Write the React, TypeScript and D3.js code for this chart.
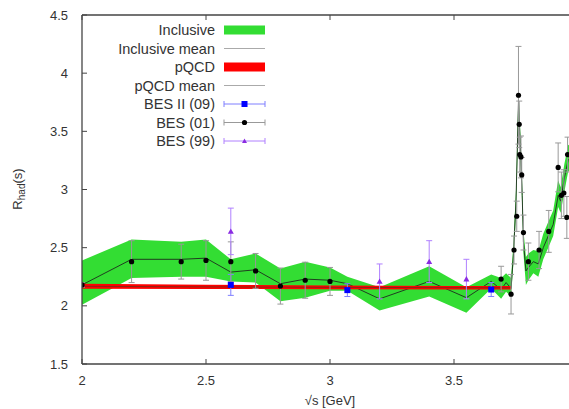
import React from "react";
import * as d3 from "d3";

// Inclusive band (mean, lower, upper)
const incX = [2.0, 2.2, 2.4, 2.5, 2.6, 2.7, 2.8, 2.9, 3.0, 3.07, 3.2, 3.4, 3.55, 3.65, 3.69, 3.71, 3.73, 3.74, 3.75, 3.76, 3.765, 3.77, 3.775, 3.78, 3.79, 3.8, 3.82, 3.84, 3.86, 3.88, 3.9, 3.92, 3.93, 3.945, 3.96, 3.98, 4.0];
const incMean = [2.18, 2.4, 2.4, 2.41, 2.29, 2.31, 2.19, 2.23, 2.22, 2.19, 2.06, 2.21, 2.07, 2.21, 2.14, 2.2, 2.15, 2.45, 2.9, 3.75, 3.5, 3.25, 2.95, 2.55, 2.3, 2.33, 2.38, 2.36, 2.5, 2.6, 2.7, 2.95, 2.9, 3.1, 3.25, 3.3, 3.3];
const incLow = [2.01, 2.24, 2.25, 2.25, 2.21, 2.2, 2.04, 2.07, 2.13, 2.13, 1.96, 2.08, 1.94, 2.15, 2.06, 2.12, 2.08, 2.38, 2.8, 3.6, 3.4, 3.15, 2.85, 2.45, 2.18, 2.22, 2.28, 2.25, 2.4, 2.5, 2.6, 2.85, 2.8, 2.98, 3.15, 3.2, 3.2];
const incHigh = [2.39, 2.57, 2.55, 2.57, 2.4, 2.45, 2.32, 2.38, 2.33, 2.25, 2.16, 2.34, 2.16, 2.27, 2.24, 2.28, 2.24, 2.55, 3.0, 3.85, 3.62, 3.36, 3.05, 2.65, 2.42, 2.45, 2.48, 2.47, 2.62, 2.72, 2.82, 3.08, 3.02, 3.22, 3.38, 3.4, 3.4];

// pQCD band
const pqX = [2.0, 2.5, 3.0, 3.5, 3.73];
const pqMean = [2.168, 2.163, 2.159, 2.156, 2.155];
const pqHalf = [0.022, 0.018, 0.016, 0.015, 0.015];

// BES (01)
const bes01X = [2.0, 2.2, 2.4, 2.5, 2.6, 2.7, 2.8, 2.9, 3.0, 3.69, 3.73, 3.742, 3.753, 3.76, 3.763, 3.765, 3.77, 3.773, 3.78, 3.8, 3.843, 3.882, 3.92, 3.933, 3.943, 3.955, 3.958];
const bes01Y = [2.18, 2.38, 2.38, 2.39, 2.38, 2.3, 2.17, 2.22, 2.21, 2.23, 2.1, 2.48, 2.77, 3.81, 3.56, 3.3, 3.28, 3.125, 2.63, 2.38, 2.48, 2.64, 3.19, 2.95, 2.97, 2.76, 3.3];
const bes01E = [0.02, 0.18, 0.15, 0.17, 0.17, 0.15, 0.155, 0.155, 0.12, 0.11, 0.17, 0.12, 0.13, 0.42, 0.2, 0.15, 0.18, 0.15, 0.15, 0.16, 0.16, 0.18, 0.21, 0.2, 0.2, 0.18, 0.15];

// BES II (09)
const bes09X = [2.6, 3.07, 3.65];
const bes09Y = [2.18, 2.135, 2.14];
const bes09E = [0.09, 0.055, 0.06];

// BES (99)
const bes99X = [2.6, 3.2, 3.4, 3.55];
const bes99Y = [2.64, 2.21, 2.38, 2.23];
const bes99E = [0.2, 0.15, 0.18, 0.17];

const xTicks = [2, 2.5, 3, 3.5];
const yTicks = [1.5, 2, 2.5, 3, 3.5, 4, 4.5];
const legendLabels = ["Inclusive", "Inclusive mean", "pQCD", "pQCD mean", "BES II (09)", "BES (01)", "BES (99)"];

const W = 569, H = 409;
const L = 82, R = 578, T = 15, B = 364;
const FONT = "'Liberation Sans', Arial, sans-serif";

export default function App() {
  const x = d3.scaleLinear().domain([2, 4]).range([L, R]);
  const y = d3.scaleLinear().domain([1.5, 4.5]).range([B, T]);

  const incArea = d3.area<number>().x((_, i) => x(incX[i])).y0((_, i) => y(incLow[i])).y1((_, i) => y(incHigh[i]));
  const incLine = d3.line<number>().x((_, i) => x(incX[i])).y((d) => y(d));
  const pqArea = d3.area<number>().x((_, i) => x(pqX[i])).y0((d, i) => y(d - pqHalf[i])).y1((d, i) => y(d + pqHalf[i]));
  const pqLine = d3.line<number>().x((_, i) => x(pqX[i])).y((d) => y(d));

  const errBars = (xs: number[], ys: number[], es: number[], color: string) =>
    xs.map((xv, i) => {
      const cx = x(xv);
      const y1 = y(ys[i] + es[i]);
      const y2 = y(ys[i] - es[i]);
      return (
        <g key={i} stroke={color} strokeWidth={1} fill="none">
          <line x1={cx} x2={cx} y1={y1} y2={y2} />
          <line x1={cx - 3} x2={cx + 3} y1={y1} y2={y1} />
          <line x1={cx - 3} x2={cx + 3} y1={y2} y2={y2} />
        </g>
      );
    });

  const tri = (cx: number, cy: number, s: number) =>
    `M${cx},${cy - s} L${cx + s},${cy + s * 0.8} L${cx - s},${cy + s * 0.8} Z`;

  const legY = (i: number) => 30 + i * 18.5;
  const lx1 = 224, lx2 = 265, lxm = 244.5;

  return (
    <svg width={W} height={H} style={{ position: "absolute", left: 0, top: 0, background: "#fff" }} fontFamily={FONT}>
      <defs>
        <clipPath id="plotclip">
          <rect x={L} y={T} width={R - L} height={B - T} />
        </clipPath>
      </defs>
      <g clipPath="url(#plotclip)">
        <path d={incArea(incMean) || ""} fill="#33dd33" />
        <path d={incLine(incMean) || ""} fill="none" stroke="#1e2a1e" strokeWidth={0.9} />
        <path d={pqArea(pqMean) || ""} fill="#ff0000" />
        <path d={pqLine(pqMean) || ""} fill="none" stroke="#7a2a1a" strokeWidth={0.9} />
        {errBars(bes09X, bes09Y, bes09E, "#7f7fff")}
        {errBars(bes01X, bes01Y, bes01E, "#999999")}
        {errBars(bes99X, bes99Y, bes99E, "#b080ff")}
        {bes09X.map((xv, i) => (
          <rect key={i} x={x(xv) - 3} y={y(bes09Y[i]) - 3} width={6} height={6} fill="#0000ff" />
        ))}
        {bes01X.map((xv, i) => (
          <circle key={i} cx={x(xv)} cy={y(bes01Y[i])} r={2.6} fill="#000" />
        ))}
        {bes99X.map((xv, i) => (
          <path key={i} d={tri(x(xv), y(bes99Y[i]), 3)} fill="#8a2be2" />
        ))}
      </g>

      {/* frame */}
      <g stroke="#444" strokeWidth={1.3} fill="none">
        <line x1={L} x2={L} y1={T} y2={B} />
        <line x1={L} x2={R} y1={B} y2={B} />
        <line x1={L} x2={R} y1={T} y2={T} />
        <line x1={R} x2={R} y1={T} y2={B} />
      </g>
      {yTicks.map((t) => (
        <g key={t}>
          <line x1={L} x2={L + 5} y1={y(t)} y2={y(t)} stroke="#444" strokeWidth={1} />
          <text x={68} y={y(t)} dy="0.35em" textAnchor="end" fontSize={13} fill="#333">{t}</text>
        </g>
      ))}
      {xTicks.map((t) => (
        <g key={t}>
          <line x1={x(t)} x2={x(t)} y1={B} y2={B - 5} stroke="#444" strokeWidth={1} />
          <line x1={x(t)} x2={x(t)} y1={T} y2={T + 5} stroke="#444" strokeWidth={1} />
          <text x={x(t)} y={380} dy="0.35em" textAnchor="middle" fontSize={13} fill="#333">{t}</text>
        </g>
      ))}
      <text x={330} y={400} dy="0.35em" textAnchor="middle" fontSize={13} fill="#333">√s [GeV]</text>
      <text transform="translate(22,189) rotate(-90)" textAnchor="middle" fontSize={13} fill="#333">
        R<tspan fontSize={10} dy="3">had</tspan><tspan dy="-3">(s)</tspan>
      </text>

      {/* legend */}
      {legendLabels.map((lab, i) => (
        <text key={lab} x={215} y={legY(i)} dy="0.35em" textAnchor="end" fontSize={14.5} fill="#333">{lab}</text>
      ))}
      <rect x={lx1} y={legY(0) - 4.5} width={lx2 - lx1} height={9} fill="#33dd33" />
      <line x1={lx1} x2={lx2} y1={legY(1)} y2={legY(1)} stroke="#aaa" strokeWidth={1} />
      <rect x={lx1} y={legY(2) - 4.5} width={lx2 - lx1} height={9} fill="#ff0000" />
      <line x1={lx1} x2={lx2} y1={legY(3)} y2={legY(3)} stroke="#aaa" strokeWidth={1} />
      {[
        { c: "#7f7fff", i: 4 },
        { c: "#999999", i: 5 },
        { c: "#b080ff", i: 6 },
      ].map(({ c, i }) => (
        <g key={i} stroke={c} strokeWidth={1}>
          <line x1={lx1} x2={lx2} y1={legY(i)} y2={legY(i)} />
          <line x1={lx1} x2={lx1} y1={legY(i) - 3} y2={legY(i) + 3} />
          <line x1={lx2} x2={lx2} y1={legY(i) - 3} y2={legY(i) + 3} />
        </g>
      ))}
      <rect x={lxm - 3} y={legY(4) - 3} width={6} height={6} fill="#0000ff" />
      <circle cx={lxm} cy={legY(5)} r={2.6} fill="#000" />
      <path d={tri(lxm, legY(6), 2.5)} fill="#8a2be2" />
    </svg>
  );
}
